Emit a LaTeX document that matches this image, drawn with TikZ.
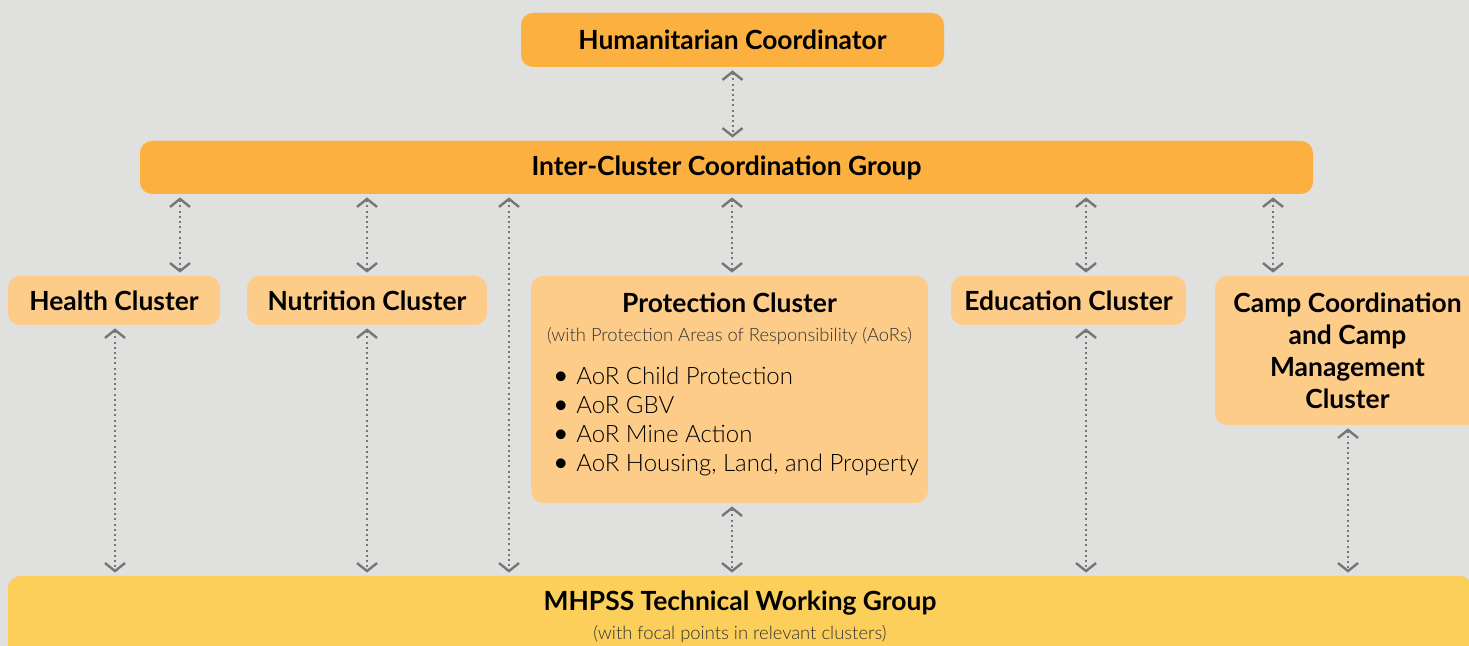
\documentclass[tikz,border=0pt]{standalone}
\usepackage{fontspec}
\setmainfont{Lato}
\newfontfamily\lightfont{Lato Light}
\usetikzlibrary{arrows.meta}
\definecolor{bggray}{RGB}{224,224,222}
\definecolor{hcorange}{RGB}{251,176,64}
\definecolor{clorange}{RGB}{253,204,136}
\definecolor{twgold}{RGB}{251,207,90}
\definecolor{linkgray}{RGB}{118,118,118}
\tikzset{
  topbox/.style={rectangle,rounded corners=6pt,fill=hcorange,inner sep=0pt,
    font=\bfseries\fontsize{13.2}{15}\selectfont},
  clbox/.style={rectangle,rounded corners=6pt,fill=clorange,inner sep=0pt,
    font=\bfseries\fontsize{13.2}{16}\selectfont,align=center},
  subtext/.style={inner sep=0pt,text=black!80,font=\lightfont\fontsize{9.2}{11}\selectfont},
  aoritem/.style={inner sep=0pt,anchor=base west,font=\lightfont\fontsize{12}{14}\selectfont},
  link/.style={linkgray,line width=1pt,dash pattern=on 1pt off 1.6pt,
    shorten <=1.5pt,shorten >=1.5pt,
    {Straight Barb[length=4pt,width=10pt,line width=1.2pt]}-{Straight Barb[length=4pt,width=10pt,line width=1.2pt]}}
}
\begin{document}
\begin{tikzpicture}[x=0.5pt,y=-0.5pt]
  \clip (0,0) rectangle (1469,646);
  \fill[bggray] (0,0) rectangle (1469,646);

  \node[topbox,minimum width=211.5pt,minimum height=27pt] (hc) at (732.5,40) {Humanitarian Coordinator};
  \node[topbox,minimum width=586.5pt,minimum height=26.5pt] (iccg) at (726.5,167.5) {Inter-Cluster Coordination Group};

  \node[clbox,minimum width=106pt,minimum height=24.5pt] (health) at (114,300.5) {Health Cluster};
  \node[clbox,minimum width=120pt,minimum height=24.5pt] (nutr) at (367,300.5) {Nutrition Cluster};
  \node[clbox,minimum width=198.5pt,minimum height=113.5pt] (prot) at (729.5,389.5) {};
  \node[clbox,minimum width=117.5pt,minimum height=24.5pt] (educ) at (1068.5,300.5) {Education Cluster};
  \node[clbox,minimum width=132.5pt,minimum height=74.5pt] (camp) at (1347.5,350.5)
    {Camp Coordination\\and Camp\\Management\\Cluster};

  % protection cluster content
  \node[inner sep=0pt,font=\bfseries\fontsize{13.2}{15}\selectfont] (prottitle) at (729.5,303) {Protection Cluster};
  \node[subtext] (protsub) at (729.5,336) {(with Protection Areas of Responsibility (AoRs)};
  \foreach \i/\aor in {0/Child Protection,1/GBV,2/Mine Action,3/{Housing, Land, and Property}} {
    \node[aoritem] (aor\i) at (553,385+29*\i) {{\normalfont\fontsize{13}{13}\selectfont\textbullet}\hspace{4pt}AoR \aor};
  }

  \node[rectangle,rounded corners=6pt,fill=twgold,minimum width=732pt,minimum height=44pt] (mhpss) at (740,620) {};
  \node[inner sep=0pt,font=\bfseries\fontsize{13.2}{15}\selectfont] (mhpsstitle) at (740,603) {MHPSS Technical Working Group};
  \node[subtext] (mhpsssub) at (740,634) {(with focal points in relevant clusters)};

  \draw[link] (hc.south) -- (iccg.north -| hc.south);
  \foreach \xx/\tgt in {180/health,367/nutr,732/prot,1086/educ,1273/camp} {
    \draw[link] (iccg.south -| \xx,0) -- (\tgt.north -| \xx,0);
  }
  \foreach \xx/\src in {115/health,367/nutr,732/prot,1086/educ,1348/camp} {
    \draw[link] (\src.south -| \xx,0) -- (mhpss.north -| \xx,0);
  }
  \draw[link] (iccg.south -| 509,0) -- (mhpss.north -| 509,0);
\end{tikzpicture}
\end{document}
